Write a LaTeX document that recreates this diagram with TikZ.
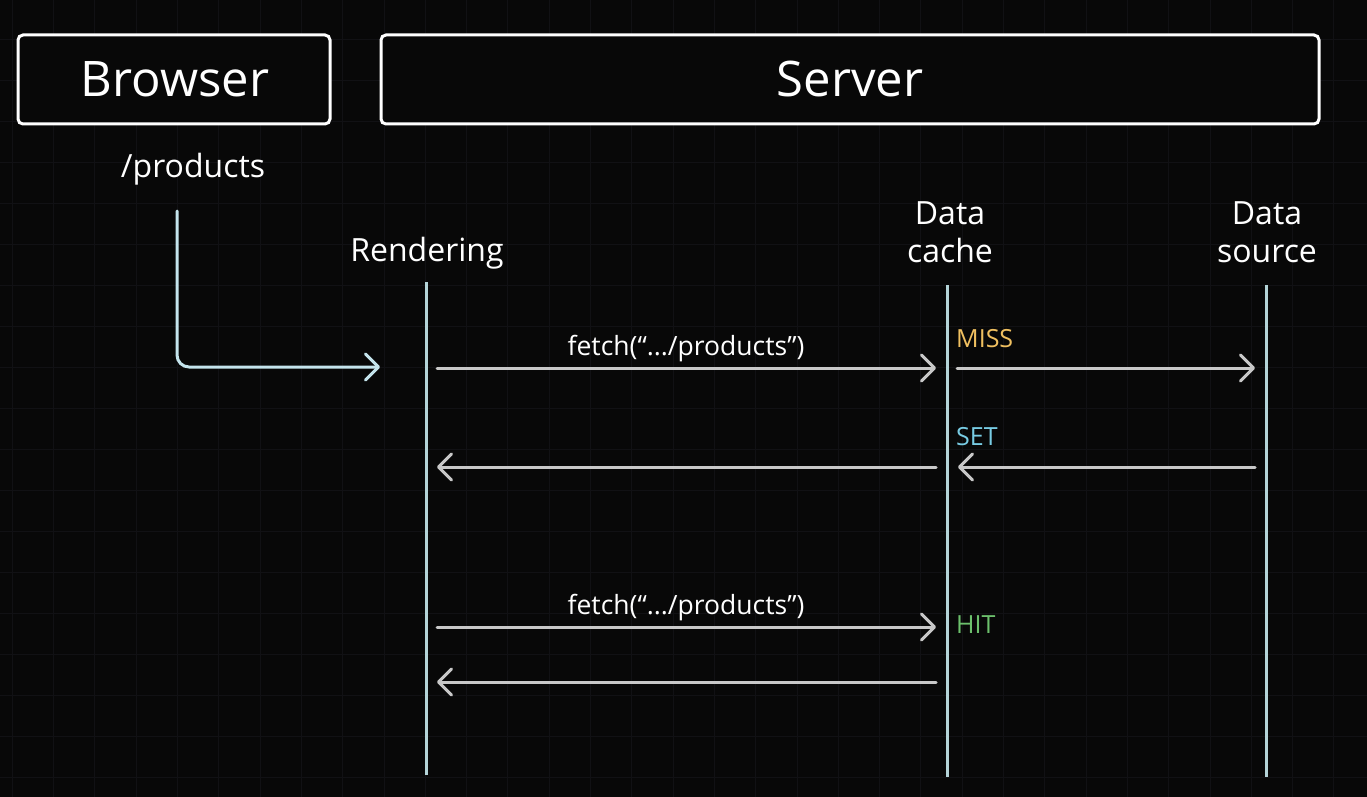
\documentclass[tikz,border=0pt]{standalone}
\usepackage{fontspec}
\setmainfont{Open Sans}
\usetikzlibrary{arrows.meta}
\definecolor{bgc}{HTML}{080808}
\definecolor{gridc}{HTML}{111114}
\definecolor{lifec}{HTML}{B4D4D8}
\definecolor{flowc}{HTML}{C4E4EC}
\definecolor{msgc}{HTML}{C8C8C8}
\definecolor{missc}{HTML}{F0C060}
\definecolor{setc}{HTML}{78CCE4}
\definecolor{hitc}{HTML}{6CC06C}
\begin{document}
\begin{tikzpicture}[x=1pt,y=-1pt,
  box/.style={draw=white,line width=3pt,rounded corners=5pt,fill=bgc},
  boxtext/.style={text=white,font=\fontsize{49}{58}\selectfont,anchor=base},
  lbl/.style={text=white,font=\fontsize{32}{38}\selectfont,anchor=base,inner sep=0pt},
  msglbl/.style={text=white,font=\fontsize{26.5}{31}\selectfont,anchor=base,inner sep=0pt},
  statelbl/.style={font=\fontsize{25}{30}\selectfont,anchor=base west,inner sep=0pt},
  life/.style={draw=lifec,line width=3pt},
  msg/.style={draw=msgc,line width=3pt,line cap=round,-{Straight Barb[length=13pt,width=26pt,line width=3pt,round]}},
  flow/.style={draw=flowc,line width=3pt,line cap=round,rounded corners=12pt,-{Straight Barb[length=13pt,width=26pt,line width=3pt,round]}}]
\fill[bgc] (0,0) rectangle (1367,797);
\useasboundingbox (0,0) rectangle (1367,797);
% faint grid
\foreach \i in {0,...,33} {\draw[gridc,line width=1pt] ({12.3+41.3*\i},0) -- ({12.3+41.3*\i},797);}
\foreach \j in {0,...,19} {\draw[gridc,line width=1pt] (0,{-1.7+41*\j}) -- (1367,{-1.7+41*\j});}
% header boxes
\draw[box] (18,35) rectangle (330,124);
\draw[box] (381,35) rectangle (1319,124);
\node[boxtext] (browser) at (175,97) {Browser};
\node[boxtext] (server) at (850,97) {Server};
\node[lbl] (prod) at (193,177) {/products};
% participants
\node[lbl] (rend) at (427,261) {Rendering};
\node[lbl,align=center] (cache) at (950,262.5) {Data\\cache};
\node[lbl,align=center] (source) at (1267,262.5) {Data\\source};
% lifelines
\coordinate (r1) at (426,282); \coordinate (r2) at (426,775);
\coordinate (c1) at (947,285); \coordinate (c2) at (947,777);
\coordinate (s1) at (1266,285); \coordinate (s2) at (1266,777);
\draw[life] (r1) -- (r2);
\draw[life] (c1) -- (c2);
\draw[life] (s1) -- (s2);
% browser request
\coordinate (b0) at (177,211);
\coordinate (b1) at (380,367);
\draw[flow] (b0) |- (b1);
% messages
\coordinate (m1a) at (437,368); \coordinate (m1b) at (936,368);
\coordinate (m2a) at (957,368); \coordinate (m2b) at (1255,368);
\coordinate (m3a) at (1255,467); \coordinate (m3b) at (958,467);
\coordinate (m4a) at (936,467); \coordinate (m4b) at (437,467);
\coordinate (m5a) at (437,627); \coordinate (m5b) at (936,627);
\coordinate (m6a) at (936,682); \coordinate (m6b) at (437,682);
\draw[msg] (m1a) -- (m1b);
\draw[msg] (m2a) -- (m2b);
\draw[msg] (m3a) -- (m3b);
\draw[msg] (m4a) -- (m4b);
\draw[msg] (m5a) -- (m5b);
\draw[msg] (m6a) -- (m6b);
\node[msglbl] (f1) at (686,355) {fetch(“.../products”)};
\node[msglbl] (f2) at (686,614) {fetch(“.../products”)};
\node[statelbl,text=missc] (miss) at (956,347) {MISS};
\node[statelbl,text=setc] (set) at (956,445) {SET};
\node[statelbl,text=hitc] (hit) at (956,633) {HIT};
\end{tikzpicture}
\end{document}
